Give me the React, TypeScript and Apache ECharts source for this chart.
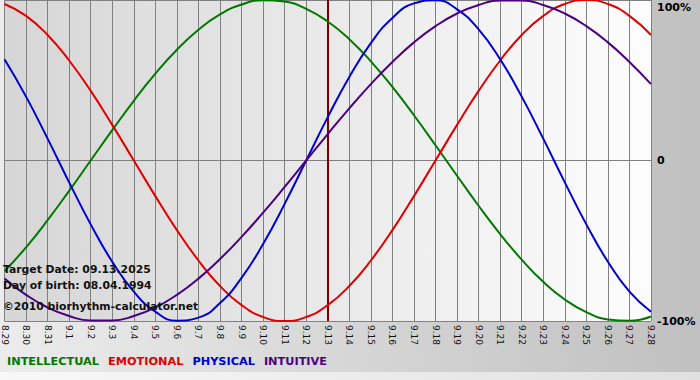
import React, { useEffect, useRef } from "react";
import * as echarts from "echarts";

const dates = [
  "8.29", "8.30", "8.31", "9.1", "9.2", "9.3", "9.4", "9.5", "9.6", "9.7", "9.8",
  "9.9", "9.10", "9.11", "9.12", "9.13", "9.14", "9.15", "9.16", "9.17", "9.18",
  "9.19", "9.20", "9.21", "9.22", "9.23", "9.24", "9.25", "9.26", "9.27", "9.28",
];

const intellectual = [
  -69.0, -54.1, -37.2, -18.9, 0, 18.9, 37.2, 54.1, 69.0, 81.5, 91.0, 97.2, 99.9, 99.0, 94.5,
  86.6, 75.6, 61.8, 45.8, 28.2, 9.5, -9.5, -28.2, -45.8, -61.8, -75.6, -86.6, -94.5, -99.0,
  -99.9, -97.2,
];
const emotional = [
  97.5, 90.1, 78.2, 62.3, 43.4, 22.2, 0, -22.2, -43.4, -62.3, -78.2, -90.1, -97.5, -100,
  -97.5, -90.1, -78.2, -62.3, -43.4, -22.2, 0, 22.2, 43.4, 62.3, 78.2, 90.1, 97.5, 100, 97.5,
  90.1, 78.2,
];
const physical = [
  63.1, 39.8, 13.6, -13.6, -39.8, -63.1, -81.7, -94.2, -99.8, -97.9, -88.8, -73.1, -52.0,
  -27.0, 0, 27.0, 52.0, 73.1, 88.8, 97.9, 99.8, 94.2, 81.7, 63.1, 39.8, 13.6, -13.6, -39.8,
  -63.1, -81.7, -94.2,
];
const intuitive = [
  -73.6, -83.7, -91.6, -96.9, -99.7, -99.7, -96.9, -91.6, -83.7, -73.6, -61.4, -47.6, -32.5,
  -16.5, 0, 16.5, 32.5, 47.6, 61.4, 73.6, 83.7, 91.6, 96.9, 99.7, 99.7, 96.9, 91.6, 83.7,
  73.6, 61.4, 47.6,
];

const targetDate = "9.13";
const infoLines = [
  "Target Date: 09.13.2025",
  "Day of birth: 08.04.1994",
  "©2010 biorhythm-calculator.net",
];

const seriesDefs = [
  { name: "INTELLECTUAL", color: "#007800", data: intellectual },
  { name: "EMOTIONAL", color: "#e00000", data: emotional },
  { name: "PHYSICAL", color: "#0000d0", data: physical },
  { name: "INTUITIVE", color: "#4b0082", data: intuitive },
];

const FONT = "DejaVu Sans";

export default function App() {
  const ref = useRef<HTMLDivElement>(null);

  useEffect(() => {
    document.body.style.margin = "0";
    if (!ref.current) return;
    const chart = echarts.init(ref.current, undefined, { renderer: "svg" });

    const series: any[] = seriesDefs.map((s, i) => ({
      name: s.name,
      type: "line",
      data: s.data,
      smooth: true,
      symbol: "none",
      lineStyle: { color: s.color, width: 2 },
      itemStyle: { color: s.color },
      z: 3,
      ...(i === 0
        ? {
            markLine: {
              silent: true,
              symbol: ["none", "none"],
              label: { show: false },
              lineStyle: { color: "#7a0000", width: 2, type: "solid" },
              data: [{ xAxis: targetDate }],
              z: 2,
            },
          }
        : {}),
    }));

    chart.setOption({
      animation: false,
      backgroundColor: new echarts.graphic.LinearGradient(0, 0, 1, 0, [
        { offset: 0, color: "#ececec" },
        { offset: 1, color: "#c0c0c0" },
      ]),
      grid: {
        left: 0,
        right: 49,
        top: 0,
        bottom: 59,
        show: true,
        borderWidth: 0,
        backgroundColor: new echarts.graphic.LinearGradient(0, 0, 1, 0, [
          { offset: 0, color: "#d6d6d6" },
          { offset: 1, color: "#fdfdfd" },
        ]),
      },
      legend: {
        left: 2,
        top: 354,
        icon: "none",
        itemWidth: 0,
        itemGap: 4,
        padding: 0,
        selectedMode: false,
        data: seriesDefs.map((s) => ({
          name: s.name,
          textStyle: { color: s.color },
        })),
        textStyle: { fontFamily: FONT, fontWeight: "bold", fontSize: 11.3 },
      },
      xAxis: {
        type: "category",
        data: dates,
        boundaryGap: false,
        axisLine: { lineStyle: { color: "#808080" } },
        axisTick: { show: true, length: 4, lineStyle: { color: "#808080" } },
        splitLine: { show: true, lineStyle: { color: "#808080", width: 1 } },
        axisLabel: {
          rotate: -90,
          interval: 0,
          margin: 4,
          fontSize: 9,
          fontFamily: FONT,
          color: "#111",
        },
      },
      yAxis: {
        type: "value",
        position: "right",
        min: -100,
        max: 100,
        interval: 100,
        axisLine: { show: false },
        axisTick: { show: false },
        splitLine: { show: true, lineStyle: { color: "#808080", width: 1 } },
        axisLabel: {
          margin: 6,
          fontSize: 11,
          fontWeight: "bold",
          fontFamily: FONT,
          color: "#000",
          formatter: (v: number) => (v === 100 ? "{t|100%}" : v === 0 ? "0" : v + "%"),
          rich: {
            t: {
              padding: [14, 0, 0, 0],
              fontSize: 11,
              fontWeight: "bold",
              fontFamily: FONT,
              color: "#000",
            },
          },
        },
      },
      graphic: [
        {
          type: "rect",
          left: 0,
          top: 372,
          shape: { width: 700, height: 8 },
          style: {
            fill: new echarts.graphic.LinearGradient(0, 0, 1, 0, [
              { offset: 0, color: "#f8f8f8" },
              { offset: 1, color: "#e0e0e0" },
            ]),
          },
          silent: true,
        },
        ...infoLines.map((t, i) => ({
          type: "text",
          left: 3,
          top: [264, 280, 301][i],
          z: 10,
          style: {
            text: t,
            fill: "#111",
            font: `bold 10.8px "${FONT}"`,
          },
          silent: true,
        })),
      ],
      series,
    });

    return () => chart.dispose();
  }, []);

  return <div ref={ref} style={{ width: 700, height: 380 }} />;
}
